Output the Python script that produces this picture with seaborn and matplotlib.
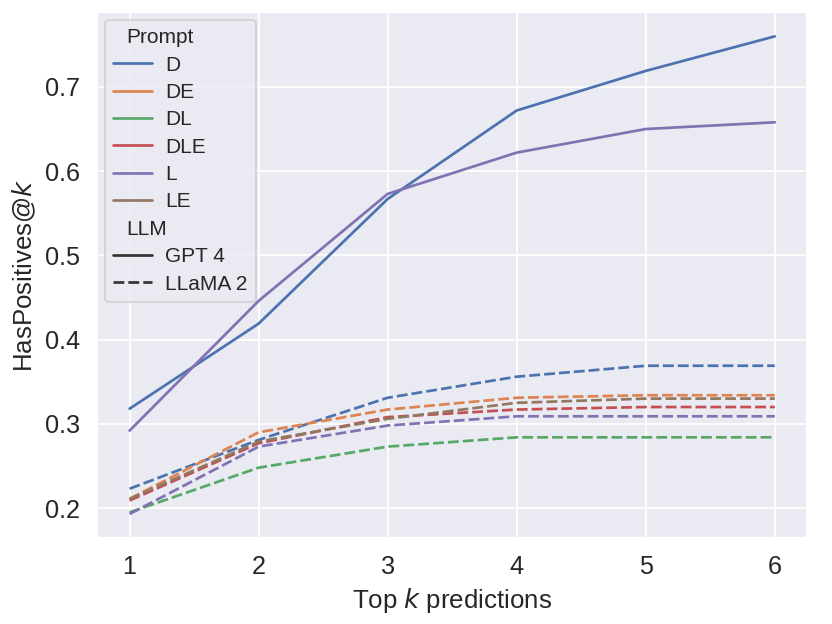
import pandas as pd
import seaborn as sns
import matplotlib.pyplot as plt

k = [1, 2, 3, 4, 5, 6]

# GPT 4 (only D and L prompts were run)
gpt4_D = [0.318, 0.419, 0.567, 0.672, 0.719, 0.760]
gpt4_L = [0.292, 0.446, 0.573, 0.622, 0.650, 0.658]

# LLaMA 2
llama_D = [0.223, 0.281, 0.331, 0.356, 0.369, 0.369]
llama_DE = [0.211, 0.290, 0.317, 0.331, 0.334, 0.334]
llama_DL = [0.195, 0.248, 0.273, 0.284, 0.284, 0.284]
llama_DLE = [0.209, 0.277, 0.308, 0.317, 0.320, 0.320]
llama_L = [0.193, 0.273, 0.298, 0.309, 0.309, 0.309]
llama_LE = [0.211, 0.279, 0.306, 0.325, 0.330, 0.330]

prompts = ["D", "DE", "DL", "DLE", "L", "LE"]

rows = []
for p, vals in [("D", gpt4_D), ("L", gpt4_L)]:
    for kk, v in zip(k, vals):
        rows.append({"k": kk, "value": v, "Prompt": p, "LLM": "GPT 4"})
for p, vals in zip(prompts, [llama_D, llama_DE, llama_DL, llama_DLE, llama_L, llama_LE]):
    for kk, v in zip(k, vals):
        rows.append({"k": kk, "value": v, "Prompt": p, "LLM": "LLaMA 2"})
df = pd.DataFrame(rows)

sns.set_theme(style="darkgrid")
plt.rcParams["font.family"] = ["Liberation Sans", "DejaVu Sans"]

fig, ax = plt.subplots(figsize=(6.4, 4.8), dpi=130)
sns.lineplot(data=df, x="k", y="value", hue="Prompt", style="LLM",
             hue_order=prompts, style_order=["GPT 4", "LLaMA 2"], ax=ax)
ax.set_xlabel("Top $k$ predictions", fontsize=14.3)
ax.set_ylabel("HasPositives@$k$", fontsize=14.3)
ax.tick_params(labelsize=14)
leg = ax.legend(loc="upper left", fontsize=11.6, labelspacing=0.4,
                handlelength=1.85, handletextpad=0.65, borderaxespad=0.35)

# subtitle rows ("Prompt", "LLM"): drop the empty handle so text sits left
for col in leg._legend_handle_box.get_children():
    for row in col.get_children():
        h, t = row.get_children()
        if t._text.get_text() in ("Prompt", "LLM"):
            h.width = 0

fig.subplots_adjust(left=0.117, right=0.97, top=0.98, bottom=0.138)
fig.savefig("out.png")
